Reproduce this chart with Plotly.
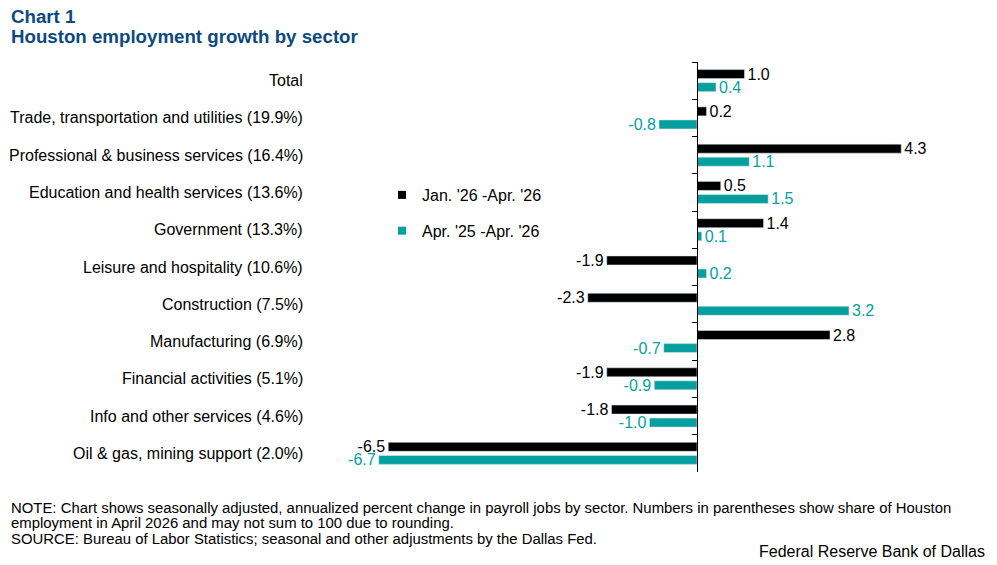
import plotly.graph_objects as go

categories = [
    "Total",
    "Trade, transportation and utilities (19.9%)",
    "Professional & business services (16.4%)",
    "Education and health services (13.6%)",
    "Government (13.3%)",
    "Leisure and hospitality (10.6%)",
    "Construction (7.5%)",
    "Manufacturing (6.9%)",
    "Financial activities (5.1%)",
    "Info and other services (4.6%)",
    "Oil & gas, mining support (2.0%)",
]
jan26_apr26 = [1.0, 0.2, 4.3, 0.5, 1.4, -1.9, -2.3, 2.8, -1.9, -1.8, -6.5]
apr25_apr26 = [0.4, -0.8, 1.1, 1.5, 0.1, 0.2, 3.2, -0.7, -0.9, -1.0, -6.7]
series_names = ["Jan. '26 -Apr. '26", "Apr. '25 -Apr. '26"]

BLACK = "#000000"
TEAL = "#069F9F"
NAVY = "#0B4A80"
FONT = "Liberation Sans, Arial, sans-serif"

W, H = 997, 565
ML, MR, MT, MB = 370, 17, 62, 93
XR = [-6.884, 5.958]
plot_w = W - ML - MR
plot_h = H - MT - MB

def px_x(px):
    return (px - ML) / plot_w

def px_y(py):
    return (H - MB - py) / plot_h

fig = go.Figure()
for vals, color, name in [(jan26_apr26, BLACK, series_names[0]), (apr25_apr26, TEAL, series_names[1])]:
    fig.add_trace(go.Bar(
        y=categories, x=vals, orientation="h", marker_color=color,
        text=[f"{v:.1f}" for v in vals], textposition="outside",
        textfont=dict(color=color, size=16, family=FONT),
        constraintext="none", cliponaxis=False, showlegend=False, name=name,
    ))
for color, name in [(BLACK, series_names[0]), (TEAL, series_names[1])]:
    fig.add_trace(go.Scatter(
        x=[None], y=[None], mode="markers", name=name, legendgroup=name,
        marker=dict(symbol="square", size=8, color=color),
    ))

zero_pos = (0 - XR[0]) / (XR[1] - XR[0])

fig.update_layout(
    width=W, height=H,
    margin=dict(l=ML, r=MR, t=MT, b=MB),
    paper_bgcolor="white", plot_bgcolor="white",
    barmode="group", bargap=0.30, bargroupgap=0.31,
    font=dict(family=FONT, size=16, color="#000000"),
    xaxis=dict(range=XR, showgrid=False, zeroline=False, showticklabels=False, showline=False, ticks=""),
    yaxis=dict(autorange="reversed", anchor="free", position=zero_pos,
               showline=True, linecolor="black", linewidth=1,
               ticks="outside", tickson="boundaries", ticklen=5, tickcolor="black",
               showticklabels=False, showgrid=False, zeroline=False),
    legend=dict(x=px_x(382), y=px_y(178), xanchor="left", yanchor="top",
                font=dict(size=16, family=FONT), tracegroupgap=12,
                bgcolor="rgba(0,0,0,0)"),
    showlegend=True,
)

for c in categories:
    fig.add_annotation(x=0, xref="paper", y=c, yref="y", text=c, showarrow=False,
                       xanchor="right", yanchor="middle", xshift=-65,
                       font=dict(size=16, family=FONT, color="#000000"))

fig.add_annotation(x=px_x(9), xref="paper", y=px_y(17), yref="paper", text="<b>Chart 1</b>",
                   showarrow=False, xanchor="left", yanchor="middle",
                   font=dict(size=18.7, family=FONT, color=NAVY))
fig.add_annotation(x=px_x(9), xref="paper", y=px_y(37), yref="paper",
                   text="<b>Houston employment growth by sector</b>",
                   showarrow=False, xanchor="left", yanchor="middle",
                   font=dict(size=18.7, family=FONT, color=NAVY))

notes = [
    (508, "NOTE: Chart shows seasonally adjusted, annualized percent change in payroll jobs by sector. Numbers in parentheses show share of Houston"),
    (523, "employment in April 2026 and may not sum to 100 due to rounding."),
    (539, "SOURCE: Bureau of Labor Statistics; seasonal and other adjustments by the Dallas Fed."),
]
for py, t in notes:
    fig.add_annotation(x=px_x(9), xref="paper", y=px_y(py), yref="paper", text=t,
                       showarrow=False, xanchor="left", yanchor="middle",
                       font=dict(size=14.9, family=FONT, color="#000000"))
fig.add_annotation(x=px_x(987), xref="paper", y=px_y(551), yref="paper",
                   text="Federal Reserve Bank of Dallas", showarrow=False,
                   xanchor="right", yanchor="middle",
                   font=dict(size=16, family=FONT, color="#000000"))

fig.write_html("out.html")
